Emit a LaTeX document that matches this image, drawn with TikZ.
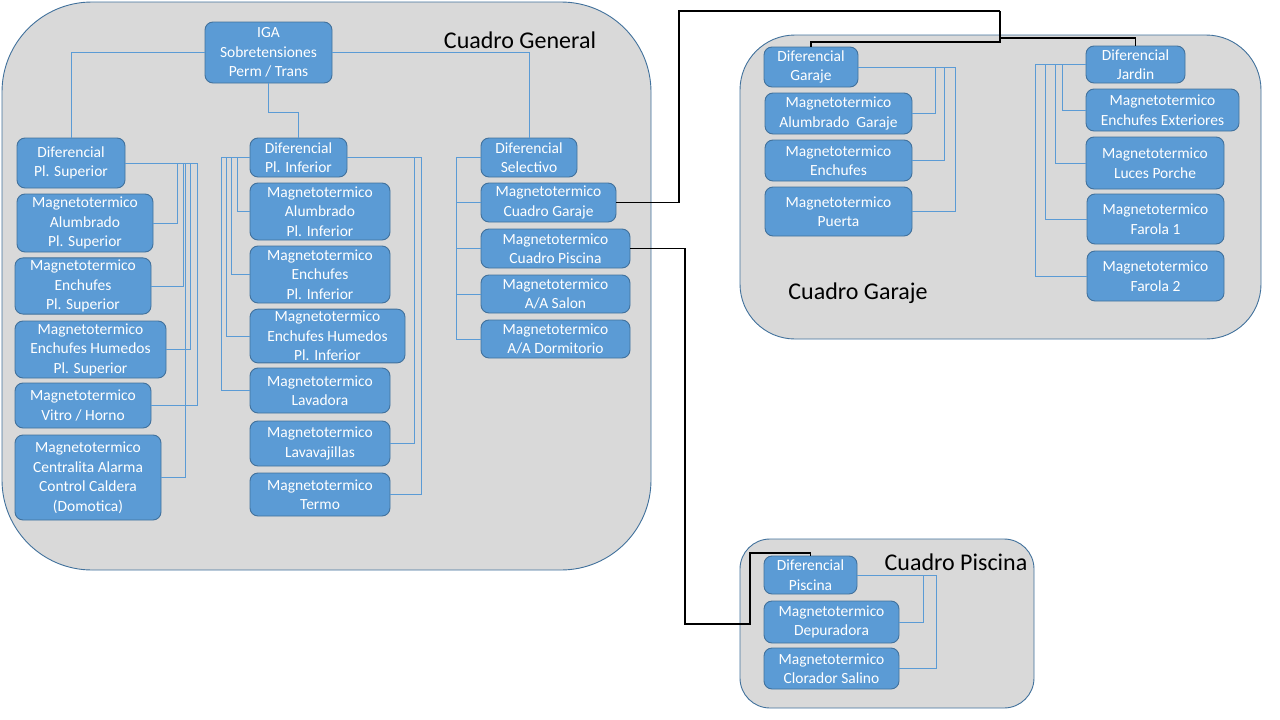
\documentclass[tikz,border=0pt]{standalone}
\usepackage{fontspec}
\setmainfont{Carlito}
\usepackage{tikz}
\usetikzlibrary{arrows.meta}
\definecolor{colCaja}{RGB}{91,155,213}
\definecolor{colBorde}{RGB}{65,113,156}
\definecolor{colCuadro}{RGB}{217,217,217}

\tikzset{
  cuadro/.style={draw=colBorde, fill=colCuadro, line width=0.9pt},
  caja/.style={draw=colBorde, fill=colCaja, text=white, rounded corners=8pt,
    line width=0.9pt, align=center, inner sep=2pt,
    font={\fontsize{15.5}{19.5}\selectfont}},
  wire/.style={draw=colCaja, line width=1pt},
  feed/.style={draw=black, line width=1.2pt},
  rotulo/.style={font={\fontsize{24}{27}\selectfont}}
}

\begin{document}
\begin{tikzpicture}[x=1pt, y=-1pt]

\useasboundingbox (0,0) rectangle (1280,720);

% Cuadros
\draw[cuadro, rounded corners=90pt] (2,2) rectangle (651,570);
\draw[cuadro, rounded corners=55pt] (740,35) rectangle (1261,339);
\draw[cuadro, rounded corners=30pt] (740,539) rectangle (1034,708);

\node[rotulo] (tgen) at (520,40) {Cuadro General};
\node[rotulo] (tgar) at (858,293) {Cuadro Garaje};
\node[rotulo] (tpis) at (956,562) {Cuadro Piscina};

% IGA
\node[caja, minimum width=127pt, minimum height=61pt] (iga) at (268.5,52.5)
    {IGA\\Sobretensiones\\Perm / Trans};

% Planta superior
\node[caja, minimum width=108pt, minimum height=50pt] (dsup) at (71,163)
    {Diferencial\\Pl. Superior};
\node[caja, minimum width=136pt, minimum height=58pt] (masup) at (85,223)
    {Magnetotermico\\Alumbrado\\Pl. Superior};
\node[caja, minimum width=136pt, minimum height=56pt] (mesup) at (83,286)
    {Magnetotermico\\Enchufes\\Pl. Superior};
\node[caja, minimum width=151pt, minimum height=57pt] (mhsup) at (90.5,349.5)
    {Magnetotermico\\Enchufes Humedos\\Pl. Superior};
\node[caja, minimum width=136pt, minimum height=45pt] (mvit) at (83,405.5)
    {Magnetotermico\\Vitro / Horno};
\node[caja, minimum width=146pt, minimum height=85pt] (mdom) at (88,477.5)
    {Magnetotermico\\Centralita Alarma\\Control Caldera\\(Domotica)};

% Planta inferior
\node[caja, minimum width=97pt, minimum height=39pt] (dinf) at (298.5,157.5)
    {Diferencial\\Pl. Inferior};
\node[caja, minimum width=140pt, minimum height=57pt] (mainf) at (320,211.5)
    {Magnetotermico\\Alumbrado\\Pl. Inferior};
\node[caja, minimum width=140pt, minimum height=57pt] (meinf) at (320,274.5)
    {Magnetotermico\\Enchufes\\Pl. Inferior};
\node[caja, minimum width=155pt, minimum height=52pt] (mhinf) at (327.5,336)
    {Magnetotermico\\Enchufes Humedos\\Pl. Inferior};
\node[caja, minimum width=140pt, minimum height=45pt] (mlav) at (320,390.5)
    {Magnetotermico\\Lavadora};
\node[caja, minimum width=140pt, minimum height=45pt] (mlvj) at (320,443.5)
    {Magnetotermico\\Lavavajillas};
\node[caja, minimum width=140pt, minimum height=43pt] (mter) at (320,494.5)
    {Magnetotermico\\Termo};

% Selectivo
\node[caja, minimum width=96pt, minimum height=39pt] (dsel) at (529,157.5)
    {Diferencial\\Selectivo};
\node[caja, minimum width=135pt, minimum height=39pt] (mcgar) at (548.5,202.5)
    {Magnetotermico\\Cuadro Garaje};
\node[caja, minimum width=149pt, minimum height=39pt] (mcpis) at (555.5,248.5)
    {Magnetotermico\\Cuadro Piscina};
\node[caja, minimum width=149pt, minimum height=38pt] (msal) at (555.5,294)
    {Magnetotermico\\A/A Salon};
\node[caja, minimum width=149pt, minimum height=38pt] (mdor) at (555.5,339)
    {Magnetotermico\\A/A Dormitorio};

% Garaje
\node[caja, minimum width=94pt, minimum height=40pt] (dgar) at (811,67)
    {Diferencial\\Garaje};
\node[caja, minimum width=147pt, minimum height=41pt] (magar) at (838.5,113.5)
    {Magnetotermico\\Alumbrado\ \ Garaje};
\node[caja, minimum width=147pt, minimum height=41pt] (megar) at (838.5,160.5)
    {Magnetotermico\\Enchufes};
\node[caja, minimum width=147pt, minimum height=49pt] (mpue) at (838.5,211.5)
    {Magnetotermico\\Puerta};

% Jardin
\node[caja, minimum width=99pt, minimum height=37pt] (djar) at (1135.5,64.5)
    {Diferencial\\Jardin};
\node[caja, minimum width=153pt, minimum height=42pt] (mext) at (1162.5,110)
    {Magnetotermico\\Enchufes Exteriores};
\node[caja, minimum width=138pt, minimum height=52pt] (mpor) at (1155,163)
    {Magnetotermico\\Luces Porche};
\node[caja, minimum width=137pt, minimum height=50pt] (mfa1) at (1155.5,219)
    {Magnetotermico\\Farola 1};
\node[caja, minimum width=137pt, minimum height=50pt] (mfa2) at (1155.5,276)
    {Magnetotermico\\Farola 2};

% Piscina
\node[caja, minimum width=93pt, minimum height=38pt] (dpis) at (810.5,575)
    {Diferencial\\Piscina};
\node[caja, minimum width=135pt, minimum height=42pt] (mdep) at (831.5,622)
    {Magnetotermico\\Depuradora};
\node[caja, minimum width=135pt, minimum height=41pt] (mclo) at (831.5,668.5)
    {Magnetotermico\\Clorador Salino};

% Conexiones IGA
\draw[wire] (iga.west) -| (dsup.north);
\draw[wire] (iga.east) -| (dsel.north);
\draw[wire] (iga.south) -- ++(0,29) -| (dinf.north);

% Conexiones de cada diferencial
\foreach \c/\d in {masup/52, mesup/58, mdom/60, mhsup/65, mvit/72}
    \draw[wire] (dsup.east) -- ++(\d,0) |- (\c.east);
\foreach \c/\d in {mainf/12, meinf/18, mhinf/23, mlav/28}
    \draw[wire] (dinf.west) -- ++(-\d,0) |- (\c.west);
\foreach \c/\d in {mlvj/67, mter/74}
    \draw[wire] (dinf.east) -- ++(\d,0) |- (\c.east);
\foreach \c in {mcgar, mcpis, msal, mdor}
    \draw[wire] (dsel.west) -- ++(-24,0) |- (\c.west);
\foreach \c/\d in {magar/77, megar/86, mpue/97}
    \draw[wire] (dgar.east) -- ++(\d,0) |- (\c.east);
\foreach \c/\d in {mext/23, mpor/30, mfa1/40, mfa2/50}
    \draw[wire] (djar.west) -- ++(-\d,0) |- (\c.west);
\foreach \c/\d in {mdep/66, mclo/79}
    \draw[wire] (dpis.east) -- ++(\d,0) |- (\c.east);

% Alimentacion a los cuadros
\coordinate (ga) at (679,11);
\coordinate (gb) at (1000,11);
\draw[feed] (mcgar.east) -| (ga) -- (gb);
\draw[feed] (gb) -- ++(0,31) -| (dgar.north);
\draw[feed] (gb) -- ++(0,27) -| (djar.north);

\coordinate (pa) at (685,624);
\coordinate (pb) at (750,553);
\draw[feed] (mcpis.east) -| (pa) -| (pb) -| (dpis.north);

\end{tikzpicture}
\end{document}
